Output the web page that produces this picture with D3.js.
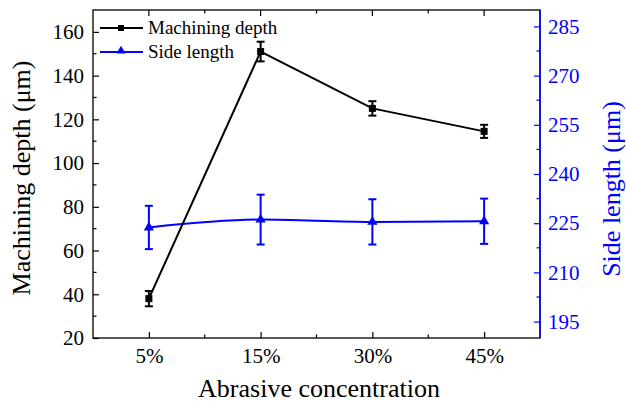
<!DOCTYPE html>
<html><head><meta charset="utf-8">
<script src="https://cdn.jsdelivr.net/npm/d3@7"></script>
<style>body{margin:0;background:#fff}svg{display:block}</style>
</head><body><svg id="c" width="626" height="406"></svg>
<script>
const categories = ["5%","15%","30%","45%"];
const depth = [38, 151, 125, 114.5];
const depthErr = [3.5, 4.5, 3.3, 3];
const side = [223.7, 226.1, 225.4, 225.6];
const sideErr = [6.6, 7.6, 6.9, 6.9];
const leftTicks = [20,40,60,80,100,120,140,160];
const rightTicks = [195,210,225,240,255,270,285];

const FONT = "'Liberation Serif','Times New Roman','DejaVu Serif',serif";
const svg = d3.select("#c");
const L=93,R=540,T=10,B=338;
const blue="#0000ff";
const x = d3.scaleLinear().domain([-0.5,3.5]).range([L,R]);
const yL = d3.scaleLinear().domain([20,170]).range([B,T]);
const yR = d3.scaleLinear().domain([190,290]).range([B,T]);
const fs=21;

// frame
svg.append("rect").attr("x",L).attr("y",T).attr("width",R-L).attr("height",B-T).attr("fill","none").attr("stroke","#000").attr("stroke-width",1.3);
svg.append("line").attr("x1",R).attr("x2",R).attr("y1",T).attr("y2",B).attr("stroke",blue).attr("stroke-width",1.5);

function styleAxis(g,color){
  g.select(".domain").remove();
  g.attr("font-family",FONT);
  g.selectAll("text").attr("font-size",fs).attr("fill",color).attr("font-family",FONT);
  g.selectAll("line").attr("stroke",color).attr("stroke-width",1.2);
}
// left axis
const la = svg.append("g").attr("transform",`translate(${L},0)`)
  .call(d3.axisLeft(yL).tickValues(leftTicks).tickSize(-6).tickPadding(9));
styleAxis(la,"#000");
svg.append("g").selectAll("line").data(d3.range(30,170,20)).join("line")
  .attr("x1",L).attr("x2",L+3.5).attr("y1",d=>yL(d)).attr("y2",d=>yL(d)).attr("stroke","#000").attr("stroke-width",1.2);

// right axis
const ra = svg.append("g").attr("transform",`translate(${R},0)`)
  .call(d3.axisRight(yR).tickValues(rightTicks).tickSize(-6).tickPadding(8));
styleAxis(ra,blue);
svg.append("g").selectAll("line").data(d3.range(202.5,290,15)).join("line")
  .attr("x1",R).attr("x2",R-3.5).attr("y1",d=>yR(d)).attr("y2",d=>yR(d)).attr("stroke",blue).attr("stroke-width",1.2);

// bottom axis
const ba = svg.append("g").attr("transform",`translate(0,${B})`)
  .call(d3.axisBottom(x).tickValues([0,1,2,3]).tickFormat(i=>categories[i]).tickSize(-6).tickPadding(10));
styleAxis(ba,"#000");
svg.append("g").selectAll("line").data([0.5,1.5,2.5]).join("line")
  .attr("x1",d=>x(d)).attr("x2",d=>x(d)).attr("y1",B).attr("y2",B-3.5).attr("stroke","#000").attr("stroke-width",1.2);
// top ticks
svg.append("g").selectAll("line").data([0,1,2,3]).join("line")
  .attr("x1",d=>x(d)).attr("x2",d=>x(d)).attr("y1",T).attr("y2",T+6).attr("stroke","#000").attr("stroke-width",1.2);
svg.append("g").selectAll("line").data([0.5,1.5,2.5]).join("line")
  .attr("x1",d=>x(d)).attr("x2",d=>x(d)).attr("y1",T).attr("y2",T+3.5).attr("stroke","#000").attr("stroke-width",1.2);

// titles
svg.append("text").attr("transform",`translate(30,178) rotate(-90)`).attr("text-anchor","middle")
  .attr("font-family",FONT).attr("font-size",26).text("Machining depth (μm)");
svg.append("text").attr("transform",`translate(620,189) rotate(-90)`).attr("text-anchor","middle")
  .attr("font-family",FONT).attr("font-size",26).attr("fill",blue).text("Side length (μm)");
svg.append("text").attr("x",319).attr("y",397).attr("text-anchor","middle").attr("font-family",FONT).attr("font-size",26).text("Abrasive concentration");

// side length series
const idx=[0,1,2,3];
svg.append("path").attr("d",d3.line().x(i=>x(i)).y(i=>yR(side[i])).curve(d3.curveMonotoneX)(idx))
  .attr("fill","none").attr("stroke",blue).attr("stroke-width",2);
const eb2=svg.append("g").attr("stroke",blue).attr("stroke-width",2);
idx.forEach(i=>{
  const y1=yR(side[i]-sideErr[i]), y2=yR(side[i]+sideErr[i]);
  eb2.append("line").attr("x1",x(i)).attr("x2",x(i)).attr("y1",y1).attr("y2",y2);
  eb2.append("line").attr("x1",x(i)-4).attr("x2",x(i)+4).attr("y1",y1).attr("y2",y1);
  eb2.append("line").attr("x1",x(i)-4).attr("x2",x(i)+4).attr("y1",y2).attr("y2",y2);
});
const tri=d3.symbol().type(d3.symbolTriangle).size(45);
svg.append("g").selectAll("path").data(idx).join("path").attr("d",tri)
  .attr("transform",i=>`translate(${x(i)},${yR(side[i])})`).attr("fill",blue);

// depth series
svg.append("path").attr("d",d3.line().x(i=>x(i)).y(i=>yL(depth[i]))(idx))
  .attr("fill","none").attr("stroke","#000").attr("stroke-width",2);
const eb=svg.append("g").attr("stroke","#000").attr("stroke-width",2);
idx.forEach(i=>{
  const y1=yL(depth[i]-depthErr[i]), y2=yL(depth[i]+depthErr[i]);
  eb.append("line").attr("x1",x(i)).attr("x2",x(i)).attr("y1",y1).attr("y2",y2);
  eb.append("line").attr("x1",x(i)-4).attr("x2",x(i)+4).attr("y1",y1).attr("y2",y1);
  eb.append("line").attr("x1",x(i)-4).attr("x2",x(i)+4).attr("y1",y2).attr("y2",y2);
});
svg.append("g").selectAll("rect").data(idx).join("rect")
  .attr("x",i=>x(i)-3.5).attr("y",i=>yL(depth[i])-3.5).attr("width",7).attr("height",7).attr("fill","#000");

// legend
const lg=svg.append("g").attr("font-family",FONT);
lg.append("line").attr("x1",100).attr("x2",143).attr("y1",28).attr("y2",28).attr("stroke","#000").attr("stroke-width",2);
lg.append("rect").attr("x",118).attr("y",25).attr("width",6).attr("height",6).attr("fill","#000");
lg.append("text").attr("x",148).attr("y",34).attr("font-family",FONT).attr("font-size",19).text("Machining depth");
lg.append("line").attr("x1",100).attr("x2",143).attr("y1",52).attr("y2",52).attr("stroke",blue).attr("stroke-width",2);
lg.append("path").attr("d",d3.symbol().type(d3.symbolTriangle).size(35)).attr("transform","translate(121,51)").attr("fill",blue);
lg.append("text").attr("x",148).attr("y",58).attr("font-family",FONT).attr("font-size",19).text("Side length");
</script></body></html>
